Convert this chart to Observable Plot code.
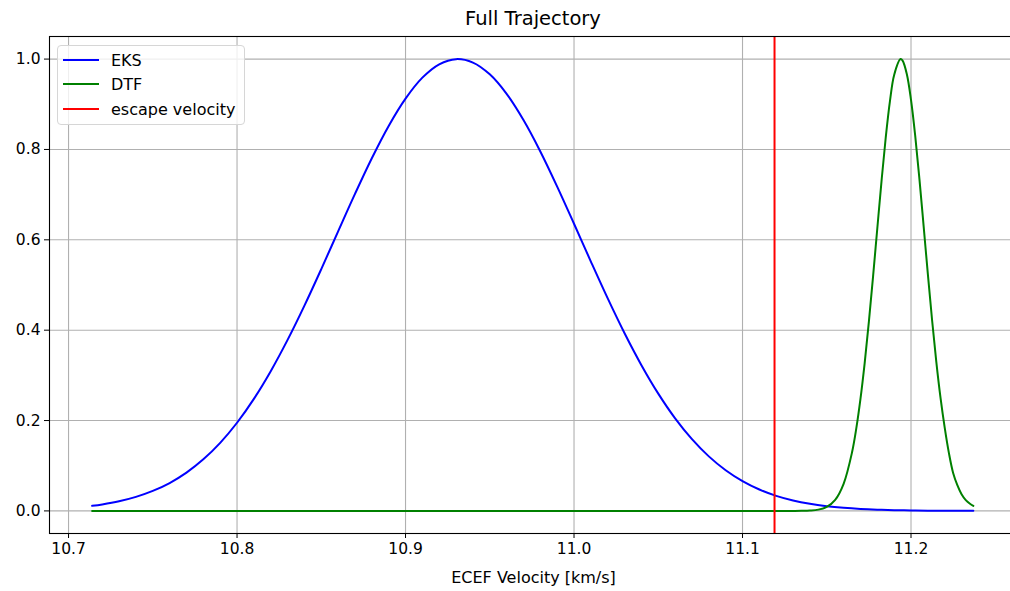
<!DOCTYPE html>
<html>
<head>
<meta charset="utf-8">
<script src="https://cdn.jsdelivr.net/npm/d3@7"></script>
<script src="https://cdn.jsdelivr.net/npm/@observablehq/plot@0.6"></script>
<style>
  html, body { margin: 0; padding: 0; background: #fff; overflow: hidden; }
  #fig { position: relative; width: 1018px; height: 591px; font-family: "DejaVu Sans", sans-serif; }
  #title { box-sizing: border-box; width: 1018px; height: 36px; padding-left: 49px; padding-right: 1px;
           text-align: center; font-size: 19.5px; line-height: 38px; color: #000; }
  #legend { position: absolute; left: 57px; top: 45px; width: 188px; height: 80px; box-sizing: border-box;
            border: 1px solid #d6d6d6; border-radius: 4px; background: rgba(255,255,255,0.8); font-size: 16px; color: #000; }
  #legend .row { position: absolute; left: 5px; height: 20px; display: flex; align-items: center; }
  #legend .sw { width: 36px; height: 2px; margin-right: 12px; }
  svg { display: block; }
</style>
</head>
<body>
<div id="fig">
  <div id="title">Full Trajectory</div>
  <div id="chart"></div>
  <div id="legend"></div>
</div>
<script>
// Normalised density of the EKS velocity estimate
const eksVelocity = [10.714, 10.72, 10.73, 10.74, 10.75, 10.76, 10.77, 10.78, 10.79, 10.80,
  10.81, 10.82, 10.83, 10.84, 10.85, 10.86, 10.87, 10.88, 10.89, 10.90,
  10.91, 10.92, 10.93, 10.94, 10.95, 10.96, 10.97, 10.98, 10.99, 11.00,
  11.01, 11.02, 11.03, 11.04, 11.05, 11.06, 11.07, 11.08, 11.09, 11.10,
  11.11, 11.12, 11.13, 11.14, 11.15, 11.16, 11.17, 11.18, 11.19, 11.20,
  11.21, 11.22, 11.23, 11.237];
const eksDensity = [0.0113, 0.0144, 0.0213, 0.0310, 0.0442, 0.0617, 0.0847, 0.1141, 0.1506, 0.1951,
  0.2480, 0.3093, 0.3785, 0.4544, 0.5353, 0.6187, 0.7016, 0.7806, 0.8521, 0.9125,
  0.9589, 0.9885, 0.9999, 0.9923, 0.9662, 0.9230, 0.8651, 0.7956, 0.7178, 0.6355,
  0.5519, 0.4703, 0.3932, 0.3226, 0.2596, 0.2049, 0.1588, 0.1207, 0.0900, 0.0659,
  0.0473, 0.0333, 0.0230, 0.0156, 0.0104, 0.0068, 0.0043, 0.0027, 0.0017, 0.0010,
  0.0006, 0.0003, 0.0002, 0.0001];

// Normalised density of the DTF velocity estimate
const dtfVelocity = [10.714, 10.80, 10.90, 11.00, 11.10, 11.12, 11.13, 11.135, 11.14, 11.145,
  11.15, 11.155, 11.16, 11.165, 11.1675, 11.17, 11.1725, 11.175, 11.1775, 11.18,
  11.1825, 11.185, 11.1875, 11.19, 11.1938, 11.195, 11.1975, 11.20, 11.2025, 11.205,
  11.2075, 11.21, 11.2125, 11.215, 11.2175, 11.22, 11.2225, 11.225, 11.2275, 11.23,
  11.2325, 11.235, 11.237];
const dtfDensity = [0, 0, 0, 0, 0, 0, 0.00004, 0.0002, 0.0008, 0.0028,
  0.0089, 0.0245, 0.0600, 0.1297, 0.1820, 0.2478, 0.3272, 0.4188, 0.5197, 0.6256,
  0.7301, 0.8264, 0.9068, 0.9650, 1.0, 0.9965, 0.9669, 0.9097, 0.8300, 0.7342,
  0.6298, 0.5239, 0.4226, 0.3305, 0.2507, 0.1844, 0.1280, 0.0840, 0.0570, 0.0370,
  0.0240, 0.0160, 0.0112];

const escapeVelocity = 11.119;

const xTicks = [10.7, 10.8, 10.9, 11.0, 11.1, 11.2];
const yTicks = [0.0, 0.2, 0.4, 0.6, 0.8, 1.0];

const seriesNames = ["EKS", "DTF", "escape velocity"];
const seriesColors = ["#0000ff", "#008000", "#ff0000"];

const eks = eksVelocity.map((v, i) => ({v, p: eksDensity[i]}));
const dtf = dtfVelocity.map((v, i) => ({v, p: dtfDensity[i]}));

const chart = Plot.plot({
  width: 1018,
  height: 555,
  marginTop: 0,
  marginBottom: 58,
  marginLeft: 49,
  marginRight: 1,
  style: {fontFamily: "DejaVu Sans, sans-serif", fontSize: "15.5px", color: "#000", background: "#fff", overflow: "visible"},
  x: {domain: [10.6887, 11.2632]},
  y: {domain: [-0.05, 1.05]},
  marks: [
    Plot.gridX(xTicks, {stroke: "#b0b0b0", strokeOpacity: 1, strokeWidth: 1.1}),
    Plot.gridY(yTicks, {stroke: "#b0b0b0", strokeOpacity: 1, strokeWidth: 1.1}),
    Plot.line(eks, {x: "v", y: "p", stroke: seriesColors[0], strokeWidth: 2, curve: "catmull-rom"}),
    Plot.line(dtf, {x: "v", y: "p", stroke: seriesColors[1], strokeWidth: 2, curve: "catmull-rom"}),
    Plot.ruleX([escapeVelocity], {stroke: seriesColors[2], strokeWidth: 2}),
    Plot.axisX(xTicks, {tickSize: 5, tickPadding: 4, tickFormat: d => d.toFixed(1), label: null, fontSize: 15.5}),
    Plot.axisY(yTicks, {tickSize: 5, tickPadding: 4, tickFormat: d => d.toFixed(1), label: null, fontSize: 15.5}),
    Plot.text(["ECEF Velocity [km/s]"], {frameAnchor: "bottom", dy: 44, text: d => d, fontSize: 16, lineAnchor: "middle"}),
    Plot.frame({stroke: "#000", strokeWidth: 1.1})
  ]
});
document.getElementById("chart").appendChild(chart);

const legend = document.getElementById("legend");
const rowTops = [4, 28, 53];
seriesNames.forEach((name, i) => {
  const row = document.createElement("div");
  row.className = "row";
  row.style.top = rowTops[i] + "px";
  const sw = document.createElement("div");
  sw.className = "sw";
  sw.style.background = seriesColors[i];
  const label = document.createElement("span");
  label.textContent = name;
  row.appendChild(sw);
  row.appendChild(label);
  legend.appendChild(row);
});
</script>
</body>
</html>
